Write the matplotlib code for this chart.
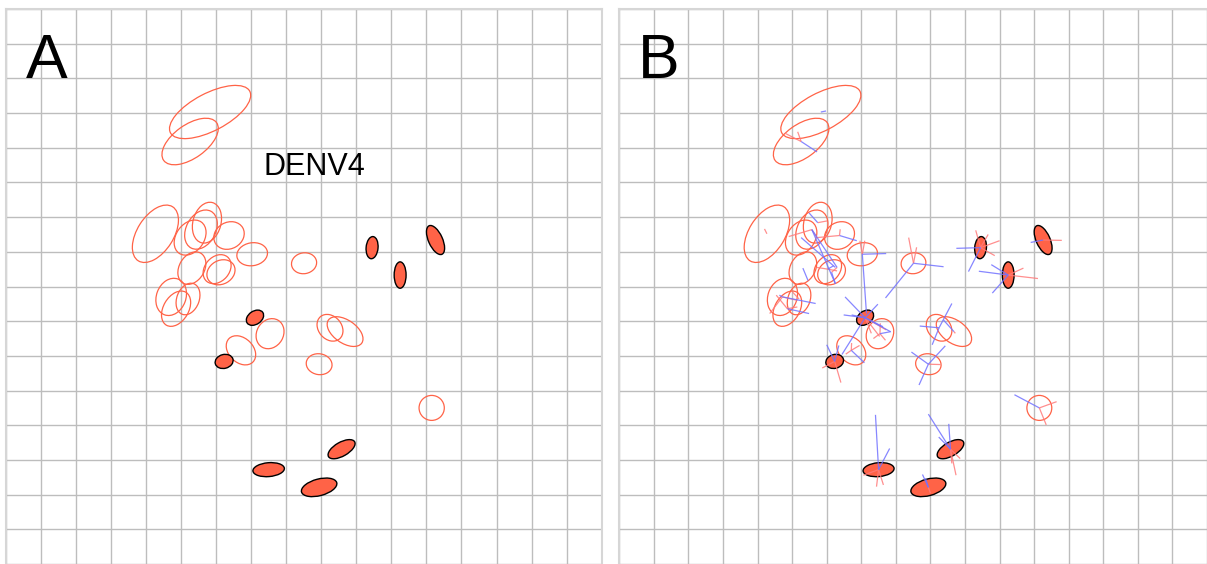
import matplotlib
matplotlib.use("Agg")
from matplotlib import pyplot as plt
from matplotlib.patches import Ellipse

plt.rcParams["font.family"] = ["Liberation Sans", "DejaVu Sans"]

# open ellipses: centre, full width/height (map units), rotation (deg)
open_ids = ["O1", "O2", "O3", "O4", "O5", "O6", "O7", "O8", "O9", "O10", "O11",
            "O12", "O13", "O14", "O15", "O16", "O17", "O18", "O19", "O20", "O21"]
open_x = [5.83, 5.26, 4.27, 5.26, 5.57, 5.74, 6.37, 7.03, 8.51, 5.31, 6.03,
          6.14, 4.72, 4.86, 5.20, 7.54, 6.71, 9.25, 9.68, 8.94, 12.15]
open_y = [13.03, 12.18, 9.52, 9.41, 9.64, 9.84, 9.47, 8.93, 8.67, 8.53, 8.50,
          8.41, 7.70, 7.36, 7.64, 6.64, 6.16, 6.81, 6.70, 5.76, 4.50]
open_w = [2.56, 1.86, 1.84, 1.10, 1.20, 1.20, 0.90, 0.88, 0.72, 1.00, 0.92,
          0.84, 1.10, 1.10, 0.94, 0.90, 0.96, 0.84, 1.16, 0.74, 0.72]
open_h = [1.08, 0.96, 1.04, 0.80, 0.84, 0.80, 0.76, 0.66, 0.60, 0.72, 0.70,
          0.68, 0.84, 0.72, 0.64, 0.76, 0.70, 0.66, 0.66, 0.60, 0.72]
open_angle = [28, 36, 58, 55, 62, 75, 30, 10, 10, 60, 50,
              30, 70, 60, 70, 60, -45, -50, -35, -10, 0]

# filled ellipses
filled_ids = ["F1", "F2", "F3", "F4", "F5", "F6", "F7", "F8"]
filled_x = [7.11, 6.23, 10.45, 11.25, 12.26, 9.58, 7.50, 8.94]
filled_y = [7.10, 5.84, 9.12, 8.33, 9.34, 3.31, 2.72, 2.21]
filled_w = [0.54, 0.52, 0.64, 0.76, 0.90, 0.86, 0.90, 1.04]
filled_h = [0.38, 0.40, 0.34, 0.34, 0.40, 0.40, 0.40, 0.48]
filled_angle = [35, 15, 85, 90, -66, 30, 5, 15]

# error lines for panel B: start point id, end coordinates
blue_from = ["O1", "O2", "O4", "O5", "O5", "O6", "O7", "O8", "O8", "O9", "O9",
             "O10", "O11", "O12", "O13", "O13", "O14", "O16", "O17", "O18", "O18",
             "O18", "O19", "O20", "O20", "O20", "O21", "F1", "F1", "F1", "F1",
             "F1", "F1", "F1", "F2", "F2", "F3", "F3", "F4", "F4", "F4", "F5",
             "F6", "F6", "F6", "F7", "F7", "F8", "F8"]
blue_to_x = [5.98, 5.72, 6.25, 6.25, 6.30, 5.49, 6.87, 7.72, 7.15, 9.38, 7.70,
             5.46, 6.20, 6.25, 5.68, 4.63, 5.49, 7.86, 7.09, 9.62, 8.69,
             9.05, 9.38, 8.67, 9.43, 8.45, 11.43, 6.53, 6.49, 7.48, 7.84,
             6.44, 7.63, 6.72, 6.00, 6.35, 9.75, 10.10, 10.40, 10.76, 10.79, 11.90,
             8.94, 9.53, 9.24, 7.41, 7.82, 8.77, 8.86]
blue_to_y = [13.06, 11.88, 8.55, 8.08, 8.55, 10.12, 9.32, 8.95, 7.22, 8.57, 7.67,
             8.17, 8.60, 8.08, 7.51, 7.75, 7.22, 6.70, 5.80, 7.51, 6.86,
             6.32, 7.03, 5.16, 6.29, 6.11, 4.88, 7.70, 7.18, 7.49, 6.70,
             6.04, 6.84, 7.18, 6.32, 6.30, 9.10, 8.43, 8.44, 8.63, 7.81, 9.27,
             4.32, 4.04, 3.66, 4.30, 3.33, 2.58, 2.47]

red_from = ["O2", "O2", "O3", "O5", "O5", "O6", "O7", "O7", "O8", "O8", "O9",
            "O9", "O11", "O11", "O12", "O13", "O13", "O14", "O14", "O15", "O16",
            "O16", "O16", "O17", "O17", "O17", "O19", "O20", "O21", "O21", "F1",
            "F1", "F1", "F2", "F2", "F3", "F3", "F3", "F3", "F4", "F4", "F5",
            "F6", "F6", "F6", "F7", "F7", "F7", "F8"]
red_to_x = [4.81, 5.16, 4.20, 4.90, 5.72, 6.01, 6.39, 5.72, 6.96, 7.10, 8.37,
            8.60, 5.72, 6.30, 6.30, 4.35, 5.15, 4.54, 5.15, 5.01, 7.55,
            7.35, 7.70, 6.72, 6.95, 6.55, 9.72, 9.29, 12.65, 12.35, 7.29,
            7.53, 7.72, 6.41, 5.87, 10.31, 10.67, 11.00, 10.86, 12.11, 11.69, 12.80,
            9.74, 9.62, 9.86, 7.44, 7.64, 7.06, 9.00]
red_to_y = [12.41, 12.46, 9.66, 9.44, 9.41, 9.89, 9.65, 9.41, 9.32, 9.32, 9.41,
            9.13, 8.55, 8.45, 8.55, 7.22, 7.60, 7.75, 7.41, 7.84, 6.94,
            6.50, 6.45, 6.37, 6.30, 6.05, 6.65, 5.75, 4.68, 4.01, 6.65,
            6.56, 6.75, 5.23, 5.65, 9.62, 9.50, 9.32, 8.89, 8.23, 8.53, 9.33,
            2.56, 2.90, 3.04, 2.23, 2.28, 2.56, 2.04]

UNIT = 35.06          # pixels per map unit
FIG_W, FIG_H = 1207, 564


def make_axes(fig, left_px, width_px):
    top_px = 9
    ax = fig.add_axes([left_px / FIG_W, 0, width_px / FIG_W, (FIG_H - top_px) / FIG_H])
    ax.set_xlim(0, width_px / UNIT)
    ax.set_ylim(16 - (FIG_H - top_px) / UNIT, 16)
    ax.set_xticks(range(0, 18))
    ax.set_yticks(range(0, 17))
    ax.grid(True, color="#bdbdbd", linewidth=1.0)
    ax.tick_params(length=0, labelbottom=False, labelleft=False)
    for side in ["top", "left", "right"]:
        ax.spines[side].set_color("#d6d6d6")
        ax.spines[side].set_linewidth(1.5)
    ax.spines["bottom"].set_visible(False)
    ax.set_axisbelow(True)
    return ax


def draw_ellipses(ax):
    for i in range(len(open_x)):
        ax.add_patch(Ellipse((open_x[i], open_y[i]), open_w[i], open_h[i],
                             angle=open_angle[i], fill=False,
                             edgecolor="#ff6347", linewidth=0.9, zorder=3))
    for i in range(len(filled_x)):
        ax.add_patch(Ellipse((filled_x[i], filled_y[i]), filled_w[i], filled_h[i],
                             angle=filled_angle[i], facecolor="#ff6347",
                             edgecolor="black", linewidth=1.0, zorder=4))


def centre(name):
    if name in open_ids:
        i = open_ids.index(name)
        return open_x[i], open_y[i]
    i = filled_ids.index(name)
    return filled_x[i], filled_y[i]


def draw_lines(ax, starts, xs, ys, color):
    for name, x1, y1 in zip(starts, xs, ys):
        x0, y0 = centre(name)
        ax.plot([x0, x1], [y0, y1], color=color, linewidth=0.9,
                alpha=0.85, zorder=5, solid_capstyle="butt")


def main():
    fig = plt.figure(figsize=(FIG_W / 100, FIG_H / 100), dpi=100)

    ax_a = make_axes(fig, 5.7, 17 * UNIT)
    ax_a.spines["right"].set_visible(True)
    draw_ellipses(ax_a)
    ax_a.text((263.5 - 5.7) / UNIT, (569.9 - 177) / UNIT, "DENV4",
              fontsize=22, va="baseline", ha="left", zorder=6)

    ax_b = make_axes(fig, 619.3, FIG_W - 619.3)
    ax_b.spines["right"].set_visible(False)
    draw_ellipses(ax_b)
    draw_lines(ax_b, red_from, red_to_x, red_to_y, "#ff7b7b")
    draw_lines(ax_b, blue_from, blue_to_x, blue_to_y, "#7272ff")

    fig.text(26 / FIG_W, 1 - 78 / FIG_H, "A", fontsize=45, va="baseline", ha="left")
    fig.text(638 / FIG_W, 1 - 78 / FIG_H, "B", fontsize=45, va="baseline", ha="left")

    fig.savefig("out.png", dpi=100, facecolor="white")


main()
